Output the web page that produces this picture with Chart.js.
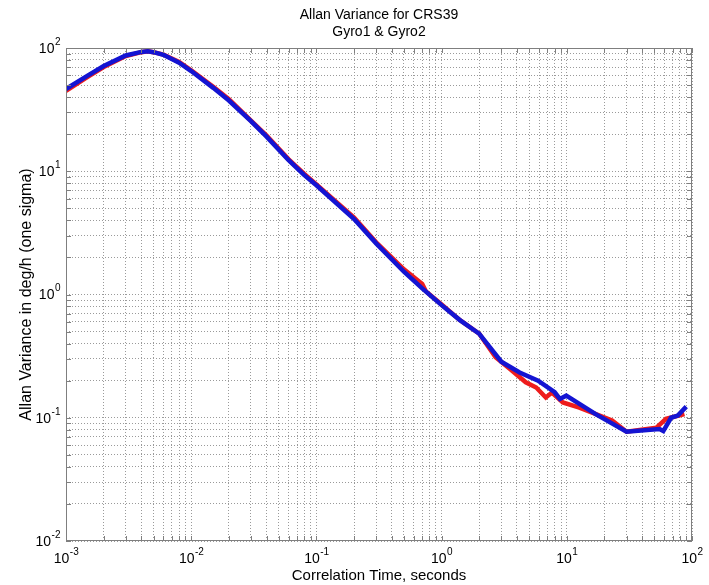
<!DOCTYPE html>
<html>
<head>
<meta charset="utf-8">
<script src="https://cdn.jsdelivr.net/npm/chart.js@4"></script>
<style>
  html, body { margin: 0; padding: 0; background: #fff; }
</style>
</head>
<body>
<canvas id="allanChart" width="709" height="585"></canvas>
<script>
// Allan deviation curves
const titleLines = ['Allan Variance for CRS39', 'Gyro1 & Gyro2'];

const gyro1Tau = [0.001, 0.0015, 0.002, 0.003, 0.004, 0.0045, 0.005, 0.006, 0.008, 0.01, 0.015, 0.02, 0.03, 0.04, 0.06, 0.08, 0.1, 0.2, 0.3, 0.5, 0.7, 0.75, 1.0, 1.4, 2.0, 2.7, 3.5, 4.7, 5.7, 6.8, 7.6, 9.3, 12.6, 23, 30, 52, 62, 87];
const gyro1Sigma = [45, 58.5, 70, 86, 92.5, 94, 92.5, 88.5, 77, 66, 48.5, 38.5, 25.8, 19.5, 12.5, 9.5, 7.8, 4.2, 2.65, 1.6, 1.22, 1.06, 0.83, 0.62, 0.48, 0.31, 0.25, 0.194, 0.176, 0.146, 0.16, 0.133, 0.121, 0.095, 0.077, 0.083, 0.098, 0.107];

const gyro2Tau = [0.001, 0.0015, 0.002, 0.003, 0.004, 0.0045, 0.005, 0.006, 0.008, 0.01, 0.015, 0.02, 0.03, 0.04, 0.06, 0.08, 0.1, 0.2, 0.3, 0.5, 0.7, 1.0, 1.4, 2.0, 3.0, 4.2, 5.9, 8.0, 8.8, 9.9, 17, 30, 55, 59, 68, 77, 90];
const gyro2Sigma = [46.5, 60, 71.5, 87, 93, 94, 92.5, 88, 76, 65, 47.5, 37.5, 25.5, 19.1, 12.3, 9.3, 7.7, 4.1, 2.6, 1.53, 1.12, 0.82, 0.62, 0.48, 0.285, 0.233, 0.2, 0.161, 0.142, 0.151, 0.107, 0.077, 0.081, 0.078, 0.1, 0.104, 0.123];

// decade tick exponents (labels are drawn as 10^exp)
const xTickExps = [-3, -2, -1, 0, 1, 2];
const yTickExps = [-2, -1, 0, 1, 2];

const FONT = "'Liberation Sans', Arial, sans-serif";

// log ticks at 1..9 per decade, used for the grid and the tick marks
const decadeTicks = (exps) => {
  const ticks = [];
  for (let i = 0; i < exps.length - 1; i++) {
    for (let m = 1; m < 10; m++) ticks.push({ value: m * Math.pow(10, exps[i]) });
  }
  ticks.push({ value: Math.pow(10, exps[exps.length - 1]) });
  return ticks;
};

const toPoints = (xs, ys) => xs.map((x, i) => ({ x: x, y: ys[i] }));

// draws title, the box, inward tick marks and 10^n labels
const matlabAxes = {
  id: 'matlabAxes',
  afterDraw(chart) {
    const { ctx, chartArea: a, scales } = chart;
    const xs = scales.x, ys = scales.y;
    ctx.save();

    // box
    ctx.strokeStyle = '#7f7f7f';
    ctx.lineWidth = 1;
    ctx.strokeRect(a.left + 0.5, a.top + 0.5, a.right - a.left - 1, a.bottom - a.top - 1);

    // inward ticks
    ctx.beginPath();
    xs.ticks.forEach(t => {
      const px = Math.round(xs.getPixelForValue(t.value)) + 0.5;
      ctx.moveTo(px, a.bottom); ctx.lineTo(px, a.bottom - 5);
      ctx.moveTo(px, a.top); ctx.lineTo(px, a.top + 5);
    });
    ys.ticks.forEach(t => {
      const py = Math.round(ys.getPixelForValue(t.value)) + 0.5;
      ctx.moveTo(a.left, py); ctx.lineTo(a.left + 5, py);
      ctx.moveTo(a.right, py); ctx.lineTo(a.right - 5, py);
    });
    ctx.stroke();

    // title
    ctx.fillStyle = '#000';
    ctx.textAlign = 'center';
    ctx.textBaseline = 'middle';
    ctx.font = '14px ' + FONT;
    const cx = (a.left + a.right) / 2;
    titleLines.forEach((line, i) => ctx.fillText(line, cx, 15 + i * 17));

    // tick labels
    const baseFont = '14px ' + FONT;
    const expFont = '10px ' + FONT;
    ctx.textAlign = 'left';
    xTickExps.forEach(e => {
      const px = xs.getPixelForValue(Math.pow(10, e));
      ctx.font = baseFont;
      const w1 = ctx.measureText('10').width;
      ctx.font = expFont;
      const w2 = ctx.measureText(String(e)).width;
      const x0 = px - (w1 + w2) / 2;
      ctx.font = baseFont;
      ctx.fillText('10', x0, a.bottom + 18);
      ctx.font = expFont;
      ctx.fillText(String(e), x0 + w1 + 0.5, a.bottom + 11);
    });
    yTickExps.forEach(e => {
      const py = ys.getPixelForValue(Math.pow(10, e));
      ctx.font = expFont;
      const w2 = ctx.measureText(String(e)).width;
      ctx.font = baseFont;
      const w1 = ctx.measureText('10').width;
      const x0 = a.left - 6 - w2 - w1;
      ctx.fillText('10', x0, py + 1);
      ctx.font = expFont;
      ctx.fillText(String(e), x0 + w1 + 0.5, py - 6);
    });
    ctx.restore();
  }
};

const gridOpts = {
  color: '#9a9a9a',
  lineWidth: 1,
  drawTicks: false
};

new Chart(document.getElementById('allanChart'), {
  type: 'line',
  data: {
    datasets: [
      {
        label: 'Gyro2',
        data: toPoints(gyro2Tau, gyro2Sigma),
        borderColor: '#1414d2',
        borderWidth: 4.5,
        pointRadius: 0,
        tension: 0,
        fill: false
      },
      {
        label: 'Gyro1',
        data: toPoints(gyro1Tau, gyro1Sigma),
        borderColor: '#ee1c1c',
        borderWidth: 4.5,
        pointRadius: 0,
        tension: 0,
        fill: false
      }
    ]
  },
  options: {
    responsive: false,
    animation: false,
    layout: { padding: { top: 48, right: 17, left: 0, bottom: 0 } },
    plugins: {
      legend: { display: false },
      tooltip: { enabled: false },
      title: { display: false }
    },
    scales: {
      x: {
        type: 'logarithmic',
        min: 0.001,
        max: 100,
        afterBuildTicks: s => { s.ticks = decadeTicks(xTickExps); },
        afterFit: s => { s.height = 44; },
        ticks: { display: false },
        grid: gridOpts,
        border: { display: false, dash: [1, 2] },
        title: {
          display: true,
          text: 'Correlation Time, seconds',
          color: '#000',
          font: { family: FONT, size: 15 },
          padding: { top: 0, bottom: 0 }
        }
      },
      y: {
        type: 'logarithmic',
        min: 0.01,
        max: 100,
        afterBuildTicks: s => { s.ticks = decadeTicks(yTickExps); },
        afterFit: s => { s.width = 66; },
        ticks: { display: false },
        grid: gridOpts,
        border: { display: false, dash: [1, 2] },
        title: {
          display: true,
          text: 'Allan Variance in deg/h (one sigma)',
          color: '#000',
          font: { family: FONT, size: 16 },
          padding: { top: 17, bottom: 0 }
        }
      }
    }
  },
  plugins: [matlabAxes]
});
</script>
</body>
</html>
